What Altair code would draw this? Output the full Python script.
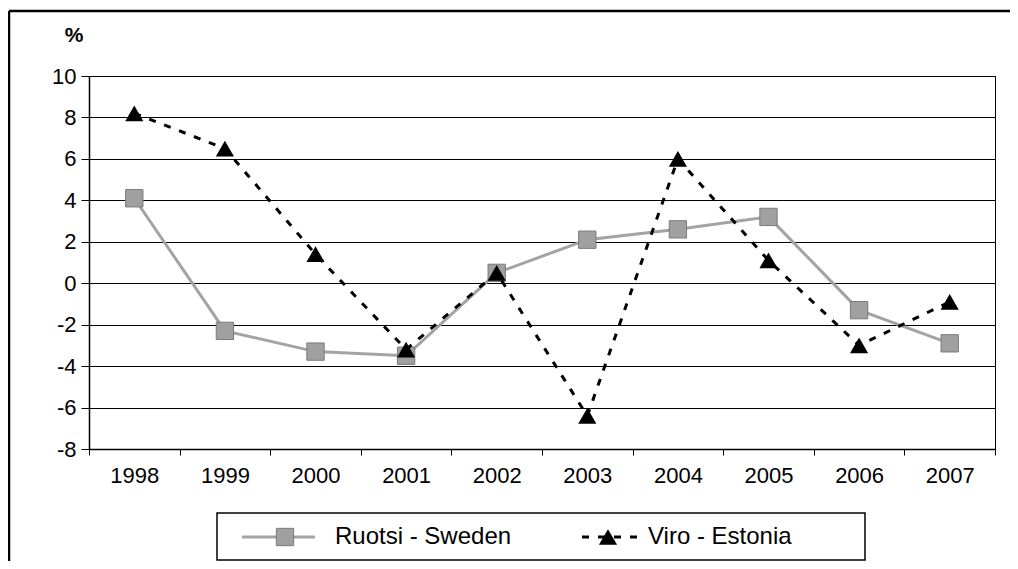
import altair as alt
import pandas as pd

years = ["1998", "1999", "2000", "2001", "2002", "2003", "2004", "2005", "2006", "2007"]
sweden = [4.1, -2.3, -3.3, -3.5, 0.5, 2.1, 2.6, 3.2, -1.3, -2.9]
estonia = [8.2, 6.5, 1.4, -3.2, 0.5, -6.4, 6.0, 1.1, -3.0, -0.9]
y_ticks = [-8, -6, -4, -2, 0, 2, 4, 6, 8, 10]
series_names = ["Ruotsi - Sweden", "Viro - Estonia"]

df_sw = pd.DataFrame({"year": years, "value": sweden})
df_ee = pd.DataFrame({"year": years, "value": estonia})
one = pd.DataFrame({"k": [0]})

FONT = "Liberation Sans"

x_enc = alt.X(
    "year:O", sort=years, title=None,
    scale=alt.Scale(paddingInner=0, paddingOuter=0),
    axis=alt.Axis(labelAngle=0, labelFontSize=22, labelFont=FONT, labelColor="black",
                  tickBand="extent", tickSize=6, tickColor="black", domainColor="black",
                  domainWidth=1.5, labelPadding=10, grid=False),
)
y_enc = alt.Y(
    "value:Q", title=None,
    scale=alt.Scale(domain=[-8, 10], nice=False, zero=False),
    axis=alt.Axis(values=y_ticks, labelFontSize=22, labelFont=FONT, labelColor="black",
                  labelExpr="datum.value < 0 ? '-' + abs(datum.value) : '' + datum.value",
                  tickSize=8, tickColor="black", domainColor="black", domainWidth=1.5,
                  labelPadding=5, grid=True, gridColor="black", gridWidth=1),
)

sw_line = alt.Chart(df_sw).mark_line(color="#a3a3a3", strokeWidth=3).encode(x=x_enc, y=y_enc)
sw_pts = alt.Chart(df_sw).mark_point(shape="square", filled=True, size=300, fill="#a0a0a0",
                                     stroke="#7a7a7a", strokeWidth=1, opacity=1).encode(x=x_enc, y=y_enc)
ee_line = alt.Chart(df_ee).mark_line(color="black", strokeWidth=3, strokeDash=[7, 9]).encode(x=x_enc, y=y_enc)
ee_pts = alt.Chart(df_ee).mark_point(shape="triangle-up", filled=True, size=330, color="black",
                                     opacity=1).encode(x=x_enc, y=y_enc)

# decorations: "%" label, outer frame, legend
pct = alt.Chart(one).mark_text(text="%", fontSize=21, fontWeight="bold", font=FONT,
                               color="black").encode(x=alt.value(-15), y=alt.value(-40))
frame_top = alt.Chart(one).mark_rule(color="black", strokeWidth=2.5).encode(
    x=alt.value(-80), x2=alt.value(940), y=alt.value(-65))
frame_left = alt.Chart(one).mark_rule(color="black", strokeWidth=2.5).encode(
    x=alt.value(-80), y=alt.value(-65), y2=alt.value(500))

leg_box = alt.Chart(one).mark_rect(fill="white", stroke="black", strokeWidth=1.5).encode(
    x=alt.value(128), x2=alt.value(776), y=alt.value(437), y2=alt.value(484))
leg_sw_line = alt.Chart(one).mark_rule(color="#a3a3a3", strokeWidth=3).encode(
    x=alt.value(153), x2=alt.value(226), y=alt.value(461))
leg_sw_pt = alt.Chart(one).mark_point(shape="square", filled=True, size=300, fill="#a0a0a0",
                                      stroke="#7a7a7a", strokeWidth=1, opacity=1).encode(
    x=alt.value(196), y=alt.value(461))
leg_sw_txt = alt.Chart(one).mark_text(text=series_names[0], align="left", baseline="middle",
                                      fontSize=24, font=FONT, color="black").encode(
    x=alt.value(246), y=alt.value(461))
leg_ee_line = alt.Chart(one).mark_rule(color="black", strokeWidth=3, strokeDash=[7, 9]).encode(
    x=alt.value(493), x2=alt.value(552), y=alt.value(461))
leg_ee_pt = alt.Chart(one).mark_point(shape="triangle-up", filled=True, size=330, color="black",
                                      opacity=1).encode(x=alt.value(519), y=alt.value(461))
leg_ee_txt = alt.Chart(one).mark_text(text=series_names[1], align="left", baseline="middle",
                                      fontSize=24, font=FONT, color="black").encode(
    x=alt.value(559), y=alt.value(461))

chart = alt.layer(
    sw_line, sw_pts, ee_line, ee_pts,
    pct, frame_top, frame_left,
    leg_box, leg_sw_line, leg_sw_pt, leg_sw_txt, leg_ee_line, leg_ee_pt, leg_ee_txt,
).properties(
    width=906, height=373,
    autosize=alt.AutoSizeParams(type="none"),
    padding={"left": 81, "top": 68, "right": 15, "bottom": 112},
    background="white",
).configure_view(stroke="black", strokeWidth=1)

chart.save("out.html", embed_options={"renderer": "svg", "actions": False})
